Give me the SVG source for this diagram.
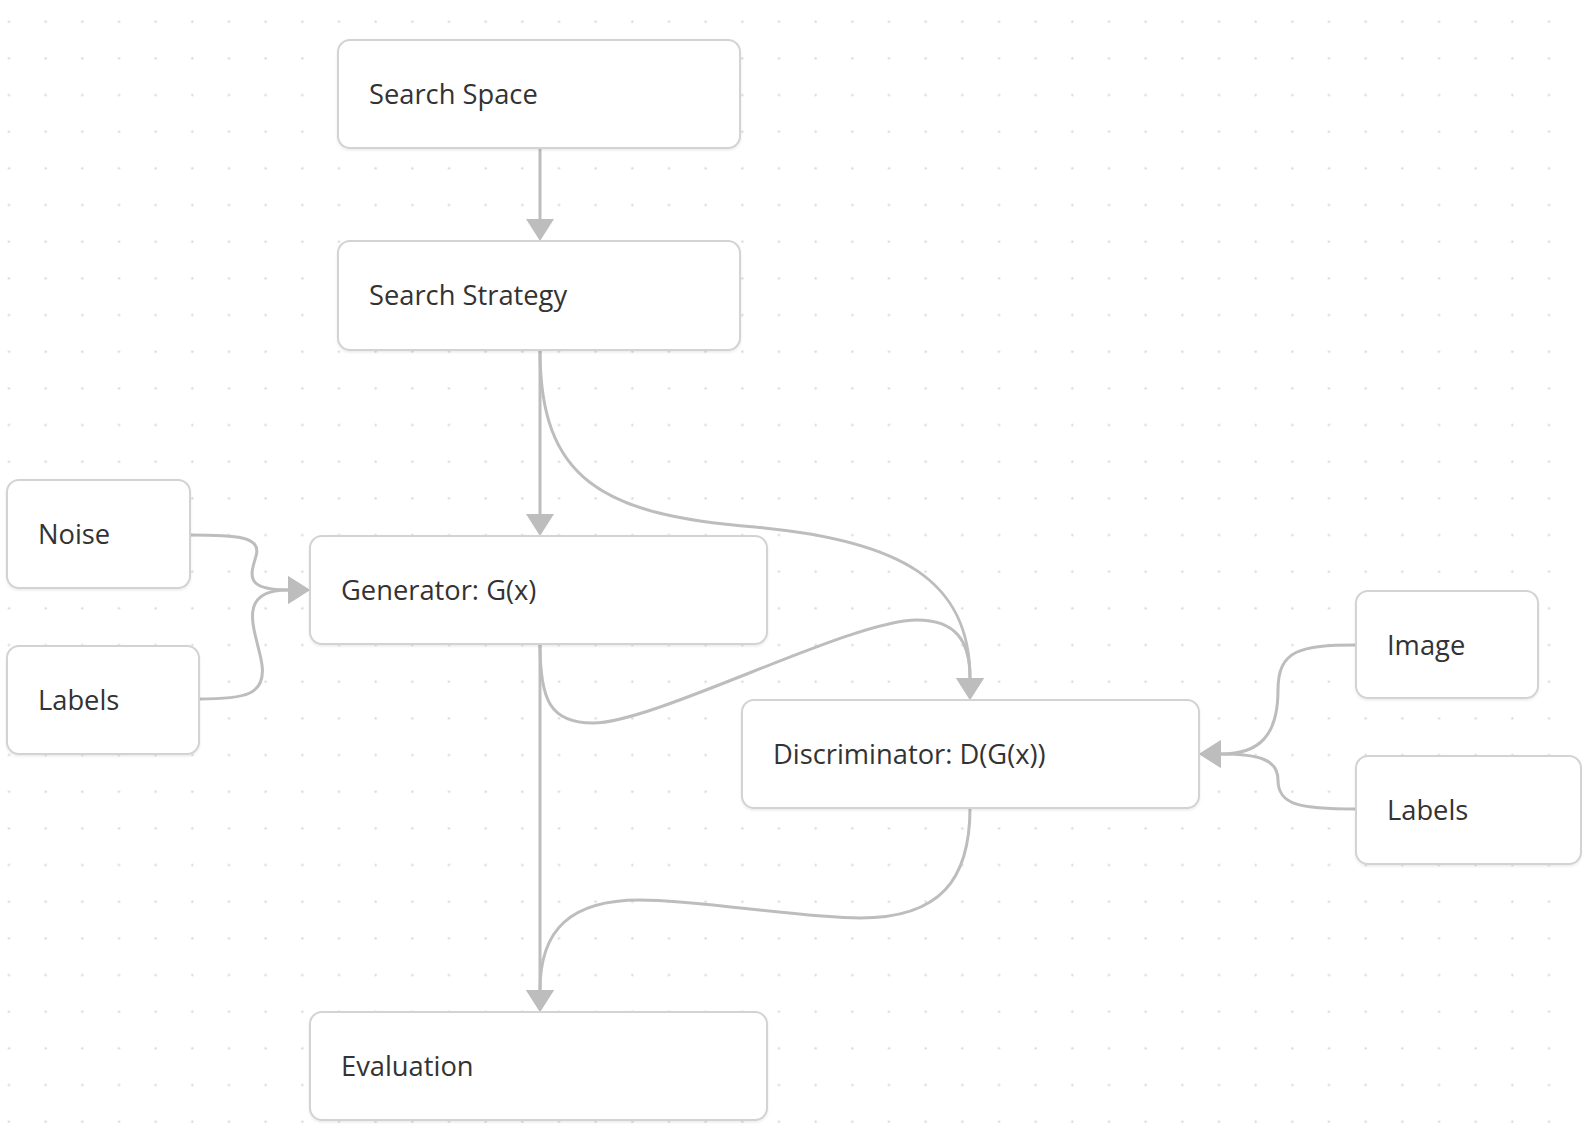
<svg xmlns="http://www.w3.org/2000/svg" width="1582" height="1124" viewBox="0 0 1582 1124">
  <defs>
    <pattern id="dots" patternUnits="userSpaceOnUse" x="-9.33" y="3.37" width="36.667" height="36.667">
      <circle cx="18.333" cy="18.333" r="1.2" fill="#d9d9d9"/>
    </pattern>
    <filter id="sh" x="-5%" y="-10%" width="110%" height="125%">
      <feDropShadow dx="0" dy="1.5" stdDeviation="1" flood-color="#000" flood-opacity="0.08"/>
    </filter>
    <marker id="arr" markerUnits="userSpaceOnUse" markerWidth="24" markerHeight="30" refX="0" refY="14" orient="auto">
      <path d="M0,0 L22,14 L0,28 Z" fill="#bdbdbd"/>
    </marker>
    <style>
      .node rect { fill: #ffffff; stroke: #d3d3d3; stroke-width: 2; filter: url(#sh); }
      .node text { font-family: "Open Sans", "Noto Sans", "Liberation Sans", sans-serif; font-size: 27.3px; fill: #333333; }
      .edge { fill: none; stroke: #bdbdbd; stroke-width: 3; marker-end: url(#arr); }
    </style>
  </defs>

  <rect x="0" y="0" width="1582" height="1124" fill="#ffffff"/>
  <rect x="0" y="0" width="1582" height="1124" fill="url(#dots)"/>

  <g id="connectors">
    <path class="edge" d="M540,148 L540,219"/>
    <path class="edge" d="M540,350 L540,514"/>
    <path class="edge" d="M540,350 C540,478 600,515 755,527 C900,540 970,580 970,678"/>
    <path class="edge" d="M540,644 C540,700 550,723 593,723 C655,723 850,620 917,620 C955,620 970,640 970,678"/>
    <path class="edge" d="M540,644 L540,990"/>
    <path class="edge" d="M970,808 C970,880 940,918 860,918 C800,918 700,900 640,900 C570,900 540,930 540,990"/>
    <path class="edge" d="M190,535 C235,535 262,536 256,556 C250,576 245,590 288,590"/>
    <path class="edge" d="M199,699 C245,699 266,695 262,665 C258,635 232,590 288,590"/>
    <path class="edge" d="M1356,645 C1300,645 1278,650 1278,690 C1278,735 1260,754 1221,754"/>
    <path class="edge" d="M1356,809 C1300,809 1278,805 1278,780 C1278,760 1260,754 1221,754"/>
  </g>

  <g id="search-space" class="node">
    <rect x="338" y="40" width="402" height="108" rx="12"/>
    <text x="369" y="104">Search Space</text>
  </g>
  <g id="search-strategy" class="node">
    <rect x="338" y="241" width="402" height="109" rx="12"/>
    <text x="369" y="305">Search Strategy</text>
  </g>
  <g id="noise" class="node">
    <rect x="7" y="480" width="183" height="108" rx="12"/>
    <text x="38" y="544">Noise</text>
  </g>
  <g id="labels-left" class="node">
    <rect x="7" y="646" width="192" height="108" rx="12"/>
    <text x="38" y="710">Labels</text>
  </g>
  <g id="generator" class="node">
    <rect x="310" y="536" width="457" height="108" rx="12"/>
    <text x="341" y="600">Generator: G(x)</text>
  </g>
  <g id="discriminator" class="node">
    <rect x="742" y="700" width="457" height="108" rx="12"/>
    <text x="773" y="764">Discriminator: D(G(x))</text>
  </g>
  <g id="image" class="node">
    <rect x="1356" y="591" width="182" height="107" rx="12"/>
    <text x="1387" y="655">Image</text>
  </g>
  <g id="labels-right" class="node">
    <rect x="1356" y="756" width="225" height="108" rx="12"/>
    <text x="1387" y="820">Labels</text>
  </g>
  <g id="evaluation" class="node">
    <rect x="310" y="1012" width="457" height="108" rx="12"/>
    <text x="341" y="1076">Evaluation</text>
  </g>
</svg>
